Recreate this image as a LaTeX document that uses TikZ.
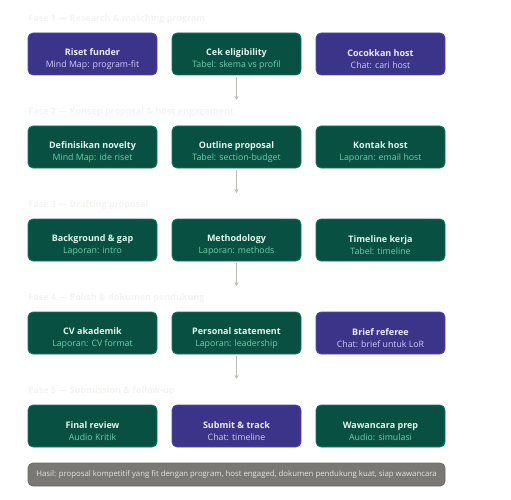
\documentclass[tikz,border=0pt]{standalone}
\usepackage{fontspec}
\setmainfont{Open Sans}
\usetikzlibrary{arrows.meta}

\definecolor{ungu}{HTML}{3C3489}
\definecolor{ungutepi}{HTML}{5148B0}
\definecolor{ungujudul}{HTML}{EEEDFE}
\definecolor{ungusub}{HTML}{CECBF6}
\definecolor{hijau}{HTML}{085041}
\definecolor{hijautepi}{HTML}{167A60}
\definecolor{hijaujudul}{HTML}{E1F5EE}
\definecolor{hijausub}{HTML}{6FCFAE}
\definecolor{abu}{HTML}{797875}
\definecolor{abutepi}{HTML}{6A6965}
\definecolor{abuteks}{HTML}{E6E4DE}
\definecolor{panah}{HTML}{BDBBB3}
\definecolor{fase}{HTML}{F3F3F1}

\newcommand{\kotak}[2]{{\fontsize{9}{11}\selectfont\bfseries\rule{0pt}{17pt}#1}\\[-0.5pt]{\fontsize{8.8}{10}\selectfont #2}}

\begin{document}
\begin{tikzpicture}[x=1pt, y=-1pt, thick,
    box/.style={draw, rounded corners=5pt, line width=0.8pt, minimum width=129pt,
      minimum height=42pt, inner sep=0pt, align=center},
    purple/.style={box, fill=ungu, draw=ungutepi, text=ungujudul},
    green/.style={box, fill=hijau, draw=hijautepi, text=hijaujudul},
    phase/.style={anchor=west, text=fase, font=\fontsize{9}{11}\selectfont\bfseries, inner sep=0pt},
    arr/.style={draw=panah, line width=1pt, -{Stealth[length=4pt, width=4pt]}}]
        \useasboundingbox (0,0) rectangle (511,500);

        % Phase headings
        \node[phase] (f1) at (28, 19) {Fase 1 — Research \& matching program};
        \node[phase] (f2) at (28, 112) {Fase 2 — Konsep proposal \& host engagement};
        \node[phase] (f3) at (28, 205) {Fase 3 — Drafting proposal};
        \node[phase] (f4) at (28, 298) {Fase 4 — Polish \& dokumen pendukung};
        \node[phase] (f5) at (28, 391) {Fase 5 — Submission \& follow-up};

        % Row 1
        \node[purple] (riset) at (92.5, 54) {\kotak{Riset funder}{\color{ungusub}Mind Map: program-fit}};
        \node[green] (cek) at (236.5, 54) {\kotak{Cek eligibility}{\color{hijausub}Tabel: skema vs profil}};
        \node[purple] (cocok) at (380.5, 54) {\kotak{Cocokkan host}{\color{ungusub}Chat: cari host}};

        % Row 2
        \node[green] (novelty) at (92.5, 147) {\kotak{Definisikan novelty}{\color{hijausub}Mind Map: ide riset}};
        \node[green] (outline) at (236.5, 147) {\kotak{Outline proposal}{\color{hijausub}Tabel: section-budget}};
        \node[green] (kontak) at (380.5, 147) {\kotak{Kontak host}{\color{hijausub}Laporan: email host}};

        % Row 3
        \node[green] (background) at (92.5, 240) {\kotak{Background \& gap}{\color{hijausub}Laporan: intro}};
        \node[green] (method) at (236.5, 240) {\kotak{Methodology}{\color{hijausub}Laporan: methods}};
        \node[green] (timeline) at (380.5, 240) {\kotak{Timeline kerja}{\color{hijausub}Tabel: timeline}};

        % Row 4
        \node[green] (cv) at (92.5, 333) {\kotak{CV akademik}{\color{hijausub}Laporan: CV format}};
        \node[green] (personal) at (236.5, 333) {\kotak{Personal statement}{\color{hijausub}Laporan: leadership}};
        \node[purple] (referee) at (380.5, 333) {\kotak{Brief referee}{\color{ungusub}Chat: brief untuk LoR}};

        % Row 5
        \node[green] (review) at (92.5, 426) {\kotak{Final review}{\color{hijausub}Audio Kritik}};
        \node[purple] (submit) at (236.5, 426) {\kotak{Submit \& track}{\color{ungusub}Chat: timeline}};
        \node[green] (wawancara) at (380.5, 426) {\kotak{Wawancara prep}{\color{hijausub}Audio: simulasi}};

        % Summary bar
        \node[draw=abutepi, fill=abu, rounded corners=5pt, line width=0.8pt, minimum width=417pt,
          minimum height=23pt, inner sep=0pt, text=abuteks, font=\fontsize{7.8}{10}\selectfont]
          (hasil) at (236.5, 474.5) {Hasil: proposal kompetitif yang fit dengan program, host engaged, dokumen pendukung kuat, siap wawancara};

        % Arrow ends between phases
        \coordinate (e1) at (236.5, 100);
        \coordinate (e2) at (236.5, 193);
        \coordinate (e3) at (236.5, 286);
        \coordinate (e4) at (236.5, 379);

        \draw[arr] (cek.south) ++(0,2) -- (e1);
        \draw[arr] (outline.south) ++(0,2) -- (e2);
        \draw[arr] (method.south) ++(0,2) -- (e3);
        \draw[arr] (personal.south) ++(0,2) -- (e4);
      \end{tikzpicture}
\end{document}
